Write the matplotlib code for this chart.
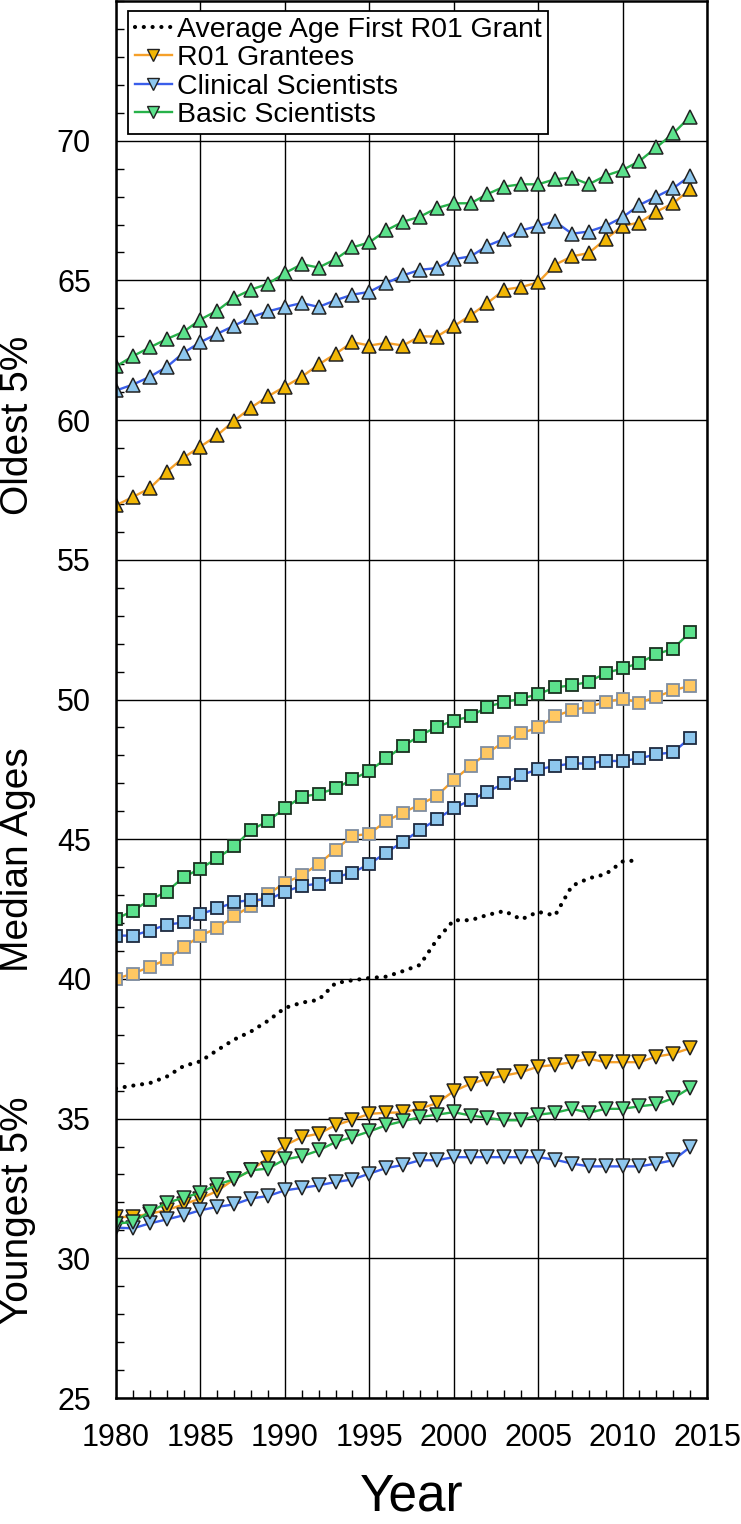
import numpy as np
import matplotlib
matplotlib.use("Agg")
from matplotlib import pyplot as plt
from matplotlib.lines import Line2D
from matplotlib.ticker import MultipleLocator

plt.rcParams['font.family'] = ['Liberation Sans', 'DejaVu Sans']

years = np.arange(1980, 2015)
years_first = np.arange(1980, 2012)

# average age at first R01 (dotted)
avg_first_r01 = [36.08, 36.18, 36.27, 36.5, 36.88, 37.05, 37.45, 37.83, 38.12, 38.5,
                 38.96, 39.15, 39.25, 39.85, 39.95, 40.03, 40.08, 40.28, 40.5, 41.4,
                 42.1, 42.1, 42.29, 42.43, 42.13, 42.4, 42.27, 43.33, 43.6, 43.75,
                 44.2, 44.25]

# oldest 5%
old_r01 = [56.95, 57.25, 57.56, 58.15, 58.66, 59.05, 59.46, 59.98, 60.45, 60.85,
           61.2, 61.55, 61.99, 62.37, 62.79, 62.67, 62.76, 62.67, 63.0, 62.99,
           63.36, 63.75, 64.19, 64.67, 64.76, 64.93, 65.56, 65.86, 65.98, 66.48,
           66.95, 67.07, 67.46, 67.76, 68.26]
old_clin = [61.06, 61.27, 61.55, 61.9, 62.41, 62.79, 63.09, 63.38, 63.68, 63.89,
            64.05, 64.19, 64.05, 64.29, 64.49, 64.59, 64.9, 65.18, 65.38, 65.44,
            65.76, 65.86, 66.24, 66.49, 66.79, 66.95, 67.11, 66.67, 66.75, 66.95,
            67.26, 67.7, 68.0, 68.3, 68.74]
old_basic = [61.92, 62.29, 62.6, 62.9, 63.16, 63.6, 63.92, 64.38, 64.67, 64.88,
             65.26, 65.58, 65.46, 65.76, 66.18, 66.36, 66.79, 67.1, 67.28, 67.59,
             67.76, 67.76, 68.09, 68.36, 68.44, 68.44, 68.62, 68.68, 68.44, 68.75,
             68.95, 69.27, 69.76, 70.26, 70.86]

# median ages
med_r01 = [40.0, 40.19, 40.43, 40.7, 41.13, 41.55, 41.82, 42.24, 42.62, 43.04,
           43.43, 43.71, 44.11, 44.62, 45.12, 45.19, 45.65, 45.95, 46.24, 46.55,
           47.12, 47.62, 48.09, 48.49, 48.79, 49.0, 49.4, 49.62, 49.74, 49.91,
           50.03, 49.89, 50.09, 50.33, 50.49]
med_clin = [41.55, 41.55, 41.73, 41.94, 42.02, 42.32, 42.52, 42.74, 42.83, 42.83,
            43.12, 43.33, 43.41, 43.64, 43.8, 44.11, 44.52, 44.91, 45.33, 45.71,
            46.11, 46.4, 46.7, 47.0, 47.3, 47.5, 47.62, 47.71, 47.71, 47.8,
            47.8, 47.89, 48.04, 48.11, 48.63]
med_basic = [42.14, 42.44, 42.83, 43.12, 43.64, 43.95, 44.32, 44.74, 45.33, 45.65,
             46.11, 46.52, 46.62, 46.82, 47.14, 47.44, 47.89, 48.33, 48.71, 49.02,
             49.24, 49.4, 49.74, 49.91, 50.03, 50.19, 50.43, 50.51, 50.63, 50.95,
             51.11, 51.31, 51.62, 51.82, 52.41]

# youngest 5%
young_r01 = [31.48, 31.48, 31.6, 31.72, 31.93, 32.14, 32.41, 32.83, 33.15, 33.59,
             34.04, 34.34, 34.46, 34.76, 34.96, 35.17, 35.21, 35.22, 35.36, 35.55,
             35.98, 36.25, 36.42, 36.54, 36.66, 36.86, 36.92, 37.02, 37.14, 37.02,
             37.02, 37.02, 37.22, 37.32, 37.52]
young_clin = [31.1, 31.07, 31.25, 31.39, 31.54, 31.72, 31.84, 31.93, 32.14, 32.23,
              32.43, 32.52, 32.61, 32.73, 32.82, 33.03, 33.23, 33.34, 33.51, 33.51,
              33.62, 33.62, 33.62, 33.62, 33.62, 33.62, 33.53, 33.39, 33.29, 33.29,
              33.29, 33.29, 33.39, 33.51, 33.98]
young_basic = [31.24, 31.3, 31.66, 31.98, 32.17, 32.35, 32.64, 32.83, 33.15, 33.21,
               33.54, 33.65, 33.86, 34.16, 34.34, 34.54, 34.76, 34.91, 35.05, 35.14,
               35.23, 35.11, 35.03, 34.94, 34.94, 35.14, 35.21, 35.35, 35.21, 35.35,
               35.35, 35.44, 35.51, 35.73, 36.1]

r01_floor = 29.6  # the R01 line drops down the left axis to here

labels = ["Average Age First R01 Grant", "R01 Grantees", "Clinical Scientists", "Basic Scientists"]
y_labels = ["Oldest 5%", "Median Ages", "Youngest 5%"]

# colours: line, triangle fill, square fill, square edge
c_r01 = ("#F5A02A", "#F2B705", "#FFC862", "#7F8DA0")
c_clin = ("#3A5EEA", "#8EC7EE", "#8EC7EE", "#1E2A40")
c_basic = ("#27B24A", "#5CE28C", "#5CE28C", "#1A3020")

dots = (0, (0.01, 2.1))

fig = plt.figure(figsize=(7.41, 15.24), dpi=100)
ax = fig.add_axes([116/741, 1-1398/1524, 591/741, 1397/1524])

# R01 drop line on the left edge
ax.plot([years[0], years[0]], [old_r01[0], r01_floor], color=c_r01[0], lw=1.5, zorder=2)

for old, med, young, c in [(old_r01, med_r01, young_r01, c_r01),
                           (old_clin, med_clin, young_clin, c_clin),
                           (old_basic, med_basic, young_basic, c_basic)]:
    ax.plot(years, old, color=c[0], lw=1.7, marker="^", ms=10.5, mfc=c[1], mec="#222222", mew=1.1, zorder=3)
    ax.plot(years, med, color=c[0], lw=1.7, marker="s", ms=9, mfc=c[2], mec=c[3], mew=1.3, zorder=3)
    ax.plot(years, young, color=c[0], lw=1.7, marker="v", ms=10.5, mfc=c[1], mec="#222222", mew=1.1, zorder=3)

ax.plot(years_first, avg_first_r01, color="black", lw=3.0, linestyle=dots,
        dash_capstyle="round", zorder=3)

ax.set_xlim(1980, 2015)
ax.set_ylim(25, 75)
ax.set_xticks(np.arange(1980, 2016, 5))
ax.set_yticks(np.arange(25, 71, 5))
ax.xaxis.set_minor_locator(MultipleLocator(1))
ax.yaxis.set_minor_locator(MultipleLocator(1))
ax.grid(which="major", color="black", lw=1.0, zorder=1)
ax.set_axisbelow(True)
ax.tick_params(which="both", direction="in", top=False, right=False)
ax.tick_params(which="major", length=0, labelsize=22, pad=18)
ax.tick_params(which="minor", length=6, width=1.0, color="black")
for s in ax.spines.values():
    s.set_linewidth(1.8)
    s.set_zorder(4)

ax.set_xlabel("Year", fontsize=37, labelpad=14)

fig.text(18/741, 1-425/1524, y_labels[0], rotation=90, fontsize=28, ha="center", va="center")
fig.text(18/741, 1-860/1524, y_labels[1], rotation=90, fontsize=28, ha="center", va="center")
fig.text(18/741, 1-1210/1524, y_labels[2], rotation=90, fontsize=28, ha="center", va="center")

handles = [Line2D([], [], color="black", lw=3.0, linestyle=dots, dash_capstyle="round")]
for c in [c_r01, c_clin, c_basic]:
    handles.append(Line2D([], [], color=c[0], lw=1.7, marker="v", ms=8.5, mfc=c[1], mec="#222222", mew=1.0))
leg = ax.legend(handles, labels, loc="upper left", bbox_to_anchor=(0.021, 0.993), fontsize=20.5,
                frameon=True, fancybox=False, framealpha=1, edgecolor="black", borderpad=0.22,
                labelspacing=0.08, handlelength=1.3, handletextpad=0.2, borderaxespad=0)
leg.get_frame().set_linewidth(1.3)
leg.set_zorder(5)

fig.savefig("out.png", dpi=100)
